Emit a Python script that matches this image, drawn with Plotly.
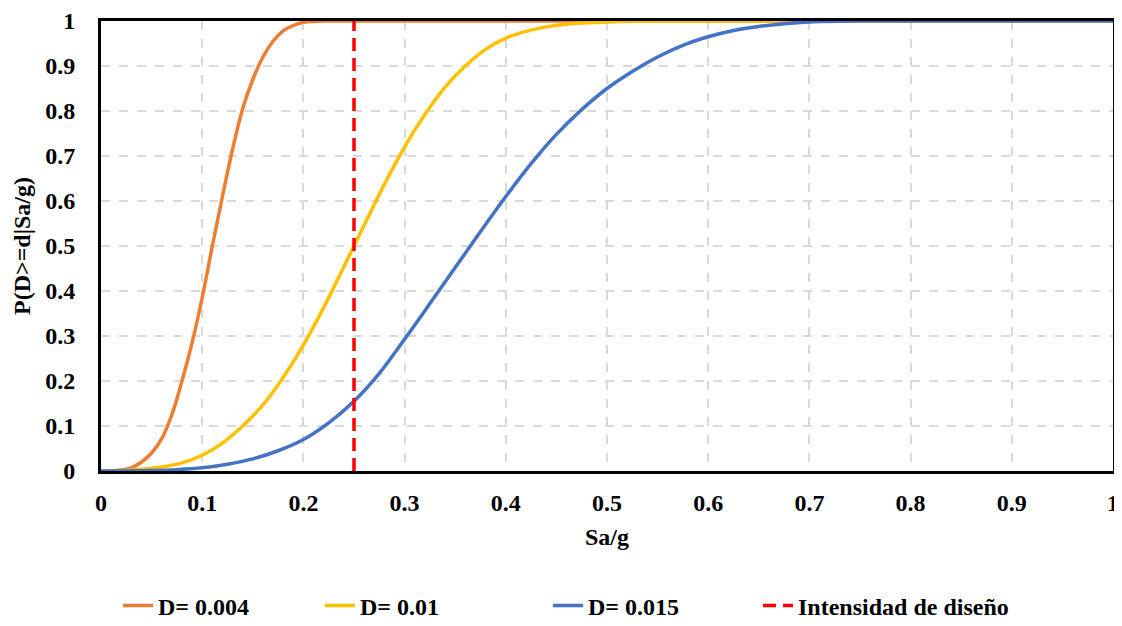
import plotly.graph_objects as go

# --- data ---
orange_x = [0, 0.01, 0.02, 0.03, 0.04, 0.05, 0.06, 0.07, 0.08, 0.09, 0.10, 0.11, 0.12, 0.13,
            0.14, 0.15, 0.16, 0.17, 0.18, 0.19, 0.20, 0.21, 0.22, 0.40, 0.60, 0.80, 1.0]
orange_y = [0, 0.0005, 0.002, 0.007, 0.02, 0.04, 0.072, 0.125, 0.2, 0.285, 0.385, 0.5, 0.61, 0.715,
            0.805, 0.87, 0.92, 0.955, 0.978, 0.99, 0.997, 0.999, 1, 1, 1, 1, 1]

yellow_x = [0, 0.02, 0.04, 0.06, 0.08, 0.10, 0.12, 0.14, 0.16, 0.18, 0.20, 0.22, 0.24, 0.26,
            0.28, 0.30, 0.32, 0.34, 0.36, 0.38, 0.40, 0.42, 0.44, 0.46, 0.48, 0.50, 0.52, 0.55,
            0.70, 0.85, 1.0]
yellow_y = [0, 0.001, 0.004, 0.009, 0.018, 0.035, 0.062, 0.1, 0.147, 0.208, 0.28, 0.363, 0.454, 0.546,
            0.637, 0.72, 0.792, 0.853, 0.9, 0.937, 0.962, 0.977, 0.987, 0.993, 0.996, 0.998, 0.999, 1,
            1, 1, 1]

blue_x = [0, 0.05, 0.075, 0.10, 0.125, 0.15, 0.175, 0.20, 0.225, 0.25, 0.275, 0.30, 0.325, 0.35,
          0.375, 0.40, 0.425, 0.45, 0.475, 0.50, 0.525, 0.55, 0.575, 0.60, 0.625, 0.65, 0.675,
          0.70, 0.75, 0.85, 1.0]
blue_y = [0, 0.001, 0.003, 0.007, 0.015, 0.027, 0.045, 0.07, 0.107, 0.155, 0.217, 0.293, 0.372, 0.452,
          0.532, 0.61, 0.683, 0.748, 0.803, 0.85, 0.888, 0.92, 0.946, 0.965, 0.979, 0.988, 0.994,
          0.998, 1, 1, 1]

design_x = [0.25, 0.25]
design_y = [0, 1]

series_names = ["D= 0.004", "D= 0.01", "D= 0.015", "Intensidad de diseño"]
tick_vals = [0, 0.1, 0.2, 0.3, 0.4, 0.5, 0.6, 0.7, 0.8, 0.9, 1]
tick_text = ["0", "0.1", "0.2", "0.3", "0.4", "0.5", "0.6", "0.7", "0.8", "0.9", "1"]

FONT = "Liberation Serif, Times New Roman, serif"
BOLD24 = dict(family=FONT, size=24, color="black", weight="bold")

W, H = 1114, 618  # page body has an 8px margin

fig = go.Figure()
fig.add_trace(go.Scatter(x=orange_x, y=orange_y, mode="lines", name=series_names[0], legend="legend",
                         line=dict(color="#ED7D31", width=3.5, shape="spline", smoothing=1.0)))
fig.add_trace(go.Scatter(x=yellow_x, y=yellow_y, mode="lines", name=series_names[1], legend="legend2",
                         line=dict(color="#FFC000", width=3.5, shape="spline", smoothing=1.0)))
fig.add_trace(go.Scatter(x=blue_x, y=blue_y, mode="lines", name=series_names[2], legend="legend3",
                         line=dict(color="#4472C4", width=3.5, shape="spline", smoothing=1.0)))
fig.add_trace(go.Scatter(x=design_x, y=design_y, mode="lines", name=series_names[3], legend="legend4",
                         line=dict(color="#FF0000", width=3.5, dash="13px,7px")))

axis_common = dict(
    range=[0, 1], tickvals=tick_vals, ticktext=tick_text,
    showgrid=True, gridcolor="#D9D9D9", gridwidth=1.5, griddash="dash",
    showline=True, linecolor="black", linewidth=3, mirror=True,
    zeroline=False, ticks="", automargin=False, ticklabeloverflow="allow",
    tickfont=BOLD24,
)


def leg(xpx):
    return dict(orientation="h", xref="container", yref="container",
                x=xpx / W, xanchor="left", y=20 / H, yanchor="middle",
                font=BOLD24, bgcolor="rgba(0,0,0,0)")


fig.update_layout(
    width=W, height=H,
    paper_bgcolor="white", plot_bgcolor="white",
    margin=dict(l=93, r=9, t=13, b=155),
    font=dict(family=FONT, color="black"),
    xaxis=dict(**axis_common, ticklabelstandoff=8,
               title=dict(text="Sa/g", font=BOLD24, standoff=14)),
    yaxis=dict(**axis_common, ticklabelstandoff=18,
               title=dict(text="P(D>=d|Sa/g)", font=BOLD24, standoff=8)),
    showlegend=True,
    legend=leg(110),
    legend2=leg(312),
    legend3=leg(540),
    legend4=leg(750),
)

fig.write_html("out.html")
